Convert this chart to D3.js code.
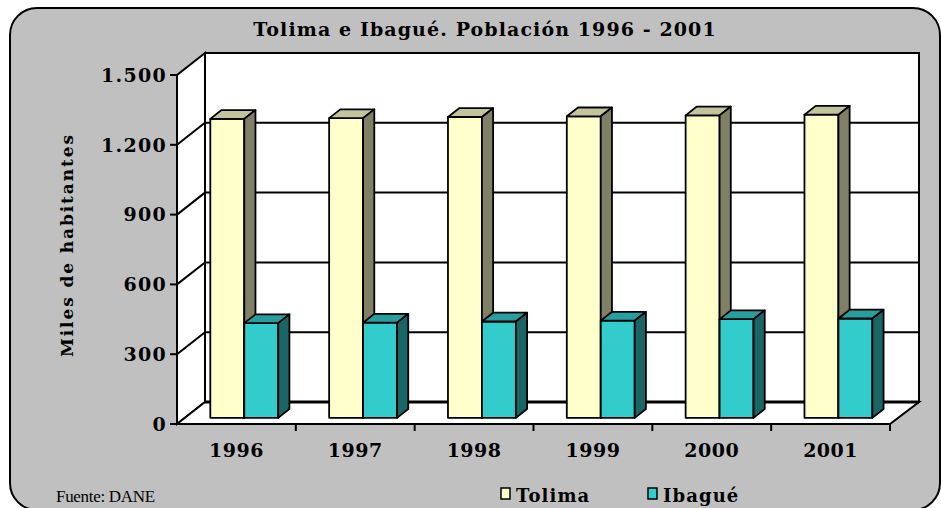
<!DOCTYPE html>
<html>
<head>
<meta charset="utf-8">
<script src="https://cdn.jsdelivr.net/npm/d3@7"></script>
<style>
  body { margin: 0; background: #ffffff; }
  text { font-family: "DejaVu Serif", serif; font-weight: bold; fill: #000; }
</style>
</head>
<body>
<svg id="chart" width="941" height="508"></svg>
<script>
// data (miles de habitantes)
const years = ["1996", "1997", "1998", "1999", "2000", "2001"];
const series = ["Tolima", "Ibagué"];
const tolima = [1285, 1288, 1293, 1296, 1300, 1303];
const ibague = [407, 409, 414, 418, 424, 427];
const yTicks = [0, 300, 600, 900, 1200, 1500];

// colours for front / top / side of each series
const colors = {
  "Tolima": { front: "#FFFFCC", top: "#C4C49C", side: "#808066" },
  "Ibagué": { front: "#33CCCC", top: "#2A9E9E", side: "#1A6666" }
};

const svg = d3.select("#chart");

// outer frame
svg.append("rect")
  .attr("x", 10).attr("y", 8)
  .attr("width", 930).attr("height", 502)
  .attr("rx", 27).attr("ry", 27)
  .style("fill", "#C0C0C0")
  .style("stroke", "#000")
  .style("stroke-width", 2);

// title
svg.append("text")
  .attr("x", 485).attr("y", 36)
  .attr("text-anchor", "middle")
  .style("font-size", "19px")
  .style("letter-spacing", "1.1px")
  .text("Tolima e Ibagué. Población 1996 - 2001");

// front plane scales, depth gives the 3d offset of the back wall
const left = 177, right = 890;
const depth = { dx: 28, dy: -22 };
let y = d3.scaleLinear().domain([0, 1500]).range([424, 75]);
let x = d3.scaleBand().domain(years).range([left, right]);
let xs = d3.scaleBand().domain(series).range([0, x.bandwidth()])
  .paddingInner(0).paddingOuter(0.75);

// walls
svg.append("polygon")
  .attr("points", [[left, y(0)], [left + depth.dx, y(0) + depth.dy],
    [left + depth.dx, y(1500) + depth.dy], [left, y(1500)]].join(" "))
  .style("fill", "#fff").style("stroke", "#000").style("stroke-width", 2);
svg.append("rect")
  .attr("x", left + depth.dx).attr("y", y(1500) + depth.dy)
  .attr("width", right + depth.dx + 1 - (left + depth.dx))
  .attr("height", y(0) - y(1500))
  .style("fill", "#fff").style("stroke", "#000").style("stroke-width", 2);
svg.append("polygon")
  .attr("points", [[left, y(0)], [left + depth.dx, y(0) + depth.dy],
    [right + depth.dx + 1, y(0) + depth.dy], [right, y(0)]].join(" "))
  .style("fill", "#fff").style("stroke", "#000").style("stroke-width", 2);
svg.append("line")
  .attr("x1", left + depth.dx).attr("x2", right + depth.dx + 1)
  .attr("y1", y(0) + depth.dy).attr("y2", y(0) + depth.dy)
  .style("stroke", "#000").style("stroke-width", 3);

// gridlines on side and back walls
yTicks.filter(d => d > 0 && d < 1500).forEach(function (v)
{
  svg.append("polyline")
    .attr("points", [[left, y(v)], [left + depth.dx, y(v) + depth.dy],
      [right + depth.dx + 1, y(v) + depth.dy]].join(" "))
    .style("fill", "none").style("stroke", "#000").style("stroke-width", 2);
});

// y axis
svg.append("line")
  .attr("x1", left).attr("x2", left).attr("y1", y(1500)).attr("y2", y(0))
  .style("stroke", "#000").style("stroke-width", 2);
yTicks.forEach(function (v)
{
  svg.append("line")
    .attr("x1", left - 7).attr("x2", left).attr("y1", y(v)).attr("y2", y(v))
    .style("stroke", "#000").style("stroke-width", 2);
  svg.append("text")
    .attr("x", 167).attr("y", y(v))
    .attr("dy", "0.36em")
    .attr("text-anchor", "end")
    .style("font-size", "19px")
    .style("letter-spacing", "1.3px")
    .text(d3.format(",")(v).replace(/,/g, "."));
});

svg.append("text")
  .attr("transform", "translate(73,245) rotate(-90)")
  .attr("text-anchor", "middle")
  .style("font-size", "17px")
  .style("letter-spacing", "1.9px")
  .text("Miles de habitantes");

// x axis
svg.append("line")
  .attr("x1", left).attr("x2", right).attr("y1", y(0)).attr("y2", y(0))
  .style("stroke", "#000").style("stroke-width", 2);
x.domain().forEach(function (d, i)
{
  if (i > 0)
  {
    svg.append("line")
      .attr("x1", x(d)).attr("x2", x(d)).attr("y1", y(0)).attr("y2", y(0) + 7)
      .style("stroke", "#000").style("stroke-width", 2);
  }
  svg.append("text")
    .attr("x", x(d) + x.bandwidth() / 2).attr("y", 457)
    .attr("text-anchor", "middle")
    .style("font-size", "19px")
    .style("letter-spacing", "0.5px")
    .text(d);
});
svg.append("line")
  .attr("x1", right).attr("x2", right).attr("y1", y(0)).attr("y2", y(0) + 7)
  .style("stroke", "#000").style("stroke-width", 2);

// 3d bars: front offset and bar depth as fractions of the wall depth
const f0 = 0.28, fb = 0.4;
const ox = depth.dx * f0, oy = depth.dy * f0;
const bx = depth.dx * fb, by = depth.dy * fb;

function drawBar(g, x0, w, v, c)
{
  let x1 = x0 + w, yt = y(v) + oy, yb = y(0) + oy;
  g.append("rect")
    .attr("x", x0).attr("y", yt).attr("width", w).attr("height", yb - yt)
    .style("fill", c.front);
  g.append("polygon")
    .attr("points", [[x0, yt], [x0 + bx, yt + by], [x1 + bx, yt + by], [x1, yt]].join(" "))
    .style("fill", c.top);
  g.append("polygon")
    .attr("points", [[x1, yt], [x1 + bx, yt + by], [x1 + bx, yb + by], [x1, yb]].join(" "))
    .style("fill", c.side);
  g.selectAll("rect, polygon")
    .style("stroke", "#000").style("stroke-width", 1.8)
    .style("stroke-linejoin", "round");
}

years.forEach(function (d, i)
{
  [tolima[i], ibague[i]].forEach(function (v, j)
  {
    let g = svg.append("g").attr("class", "bar");
    drawBar(g, x(d) + xs(series[j]) + ox, xs.bandwidth(), v, colors[series[j]]);
  });
});

// source and legend
svg.append("text")
  .attr("x", 56).attr("y", 502)
  .style("font-family", "'Liberation Serif', serif")
  .style("font-weight", "normal")
  .style("font-size", "17px")
  .style("letter-spacing", "-0.3px")
  .text("Fuente: DANE");

const legendX = [501, 648];
series.forEach(function (s, i)
{
  svg.append("rect")
    .attr("x", legendX[i]).attr("y", 488).attr("width", 9).attr("height", 11)
    .style("fill", colors[s].front)
    .style("stroke", "#000").style("stroke-width", 1.5);
  svg.append("text")
    .attr("x", legendX[i] + 15).attr("y", 502)
    .style("font-size", "18px")
    .style("letter-spacing", "1.1px")
    .text(s);
});
</script>
</body>
</html>
